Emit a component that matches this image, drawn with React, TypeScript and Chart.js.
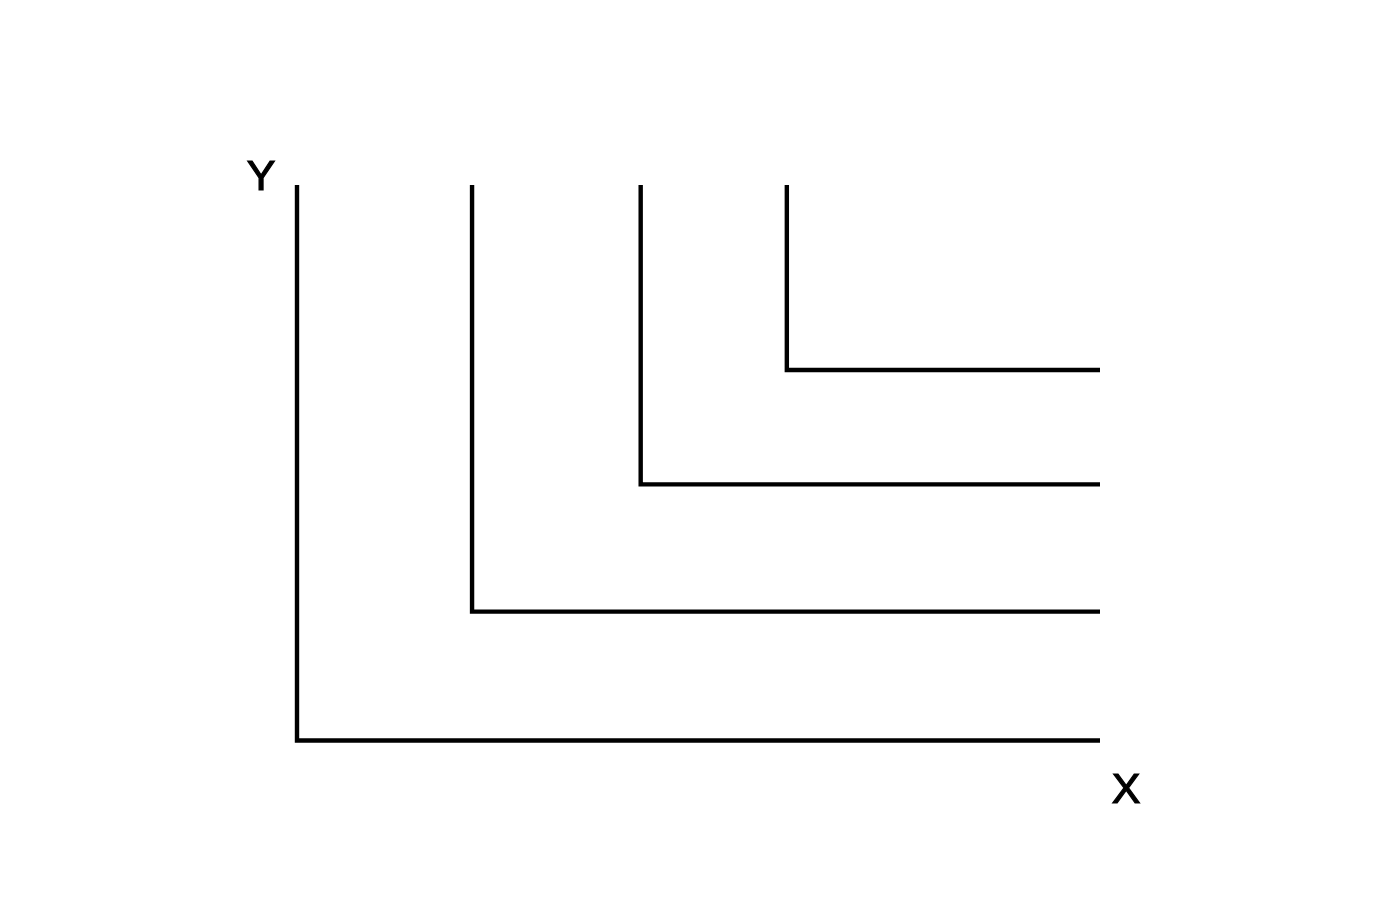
import React, { useEffect, useRef } from "react";
import { Chart, registerables } from "chart.js";

Chart.register(...registerables);

// Data (axis range 0..10)
const axisMax = 10;
const cornerX = [0, 2.18, 4.28, 6.1];
const cornerY = [0, 2.32, 4.61, 6.67];
const axisLabels = { x: "X", y: "Y" };

const labelPlugin = {
  id: "axisLetters",
  afterDraw(chart: any) {
    const { ctx, chartArea } = chart;
    ctx.save();
    ctx.fillStyle = "#000";
    ctx.strokeStyle = "#000";
    ctx.lineWidth = 1.2;
    ctx.font = "43px 'Liberation Sans', Arial, sans-serif";
    ctx.textAlign = "center";
    ctx.textBaseline = "alphabetic";
    const yx = chartArea.left - 36, yy = chartArea.top + 5;
    const xx = chartArea.right + 26, xy = chartArea.bottom + 62;
    ctx.fillText(axisLabels.y, yx, yy);
    ctx.strokeText(axisLabels.y, yx, yy);
    ctx.fillText(axisLabels.x, xx, xy);
    ctx.strokeText(axisLabels.x, xx, xy);
    ctx.restore();
  },
};

export default function App() {
  const ref = useRef<HTMLCanvasElement>(null);
  useEffect(() => {
    if (!ref.current) return;
    const datasets = cornerX.map((cx, i) => ({
      label: "L" + i,
      data: [
        { x: cx, y: axisMax },
        { x: cx, y: cornerY[i] },
        { x: axisMax, y: cornerY[i] },
      ],
      borderColor: "#000",
      borderWidth: 4.4,
      pointRadius: 0,
      fill: false,
      tension: 0,
      clip: false as any,
      borderCapStyle: "butt" as const,
      borderJoinStyle: "miter" as const,
    }));
    const chart = new Chart(ref.current, {
      type: "line",
      data: { datasets },
      options: {
        animation: false,
        responsive: false,
        layout: { padding: { left: 297, right: 286, top: 185, bottom: 165.5 } },
        plugins: { legend: { display: false }, tooltip: { enabled: false } },
        scales: {
          x: { type: "linear", min: 0, max: axisMax, display: false },
          y: { type: "linear", min: 0, max: axisMax, display: false },
        },
      },
      plugins: [labelPlugin],
    });
    return () => chart.destroy();
  }, []);
  return (
    <div style={{ position: "fixed", left: 0, top: 0, width: 1386, height: 906, background: "#fff" }}>
      <canvas ref={ref} width={1386} height={906} />
    </div>
  );
}
